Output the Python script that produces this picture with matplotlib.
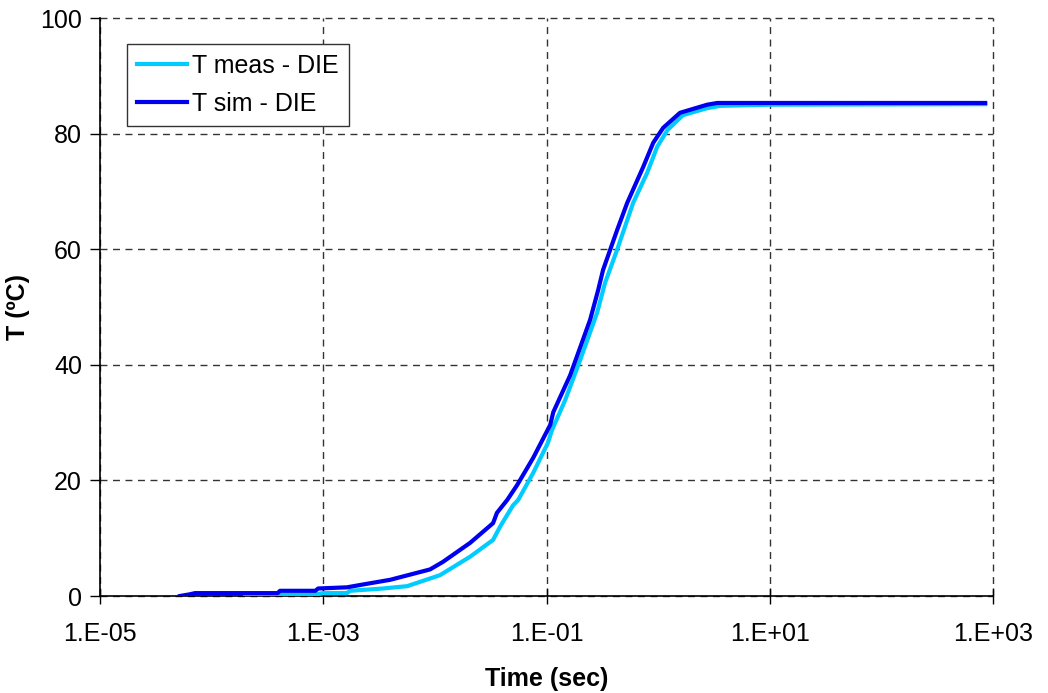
import matplotlib
matplotlib.use("Agg")
import matplotlib.pyplot as plt
from matplotlib.ticker import FixedLocator, NullLocator

plt.rcParams['font.family'] = ['Liberation Sans', 'DejaVu Sans']

# Simulated temperature (dark blue)
t_sim = [5.2e-5, 6.4e-5, 7.1e-5, 3.9e-4, 4.1e-4, 8.5e-4, 9.0e-4, 1.63e-3, 2.28e-3,
         3.97e-3, 9.06e-3, 1.18e-2, 2.07e-2, 3.32e-2, 3.6e-2, 4.44e-2, 5.46e-2,
         7.6e-2, 0.108, 0.115, 0.163, 0.246, 0.290, 0.321, 0.429, 0.528, 0.734,
         0.903, 1.11, 1.57, 2.75, 3.38, 851]
T_sim = [0.0, 0.3, 0.5, 0.5, 0.9, 0.9, 1.3, 1.5, 2.0,
         2.8, 4.6, 5.9, 9.2, 12.6, 14.4, 16.6, 19.2,
         23.9, 29.6, 31.8, 38.2, 47.8, 52.9, 56.4, 63.3, 68.0, 74.2,
         78.4, 81.0, 83.6, 85.0, 85.3, 85.3]

# Measured temperature (cyan)
t_meas = [2.0e-4, 8.8e-4, 9.95e-4, 1.63e-3, 1.74e-3, 3.43e-3, 5.64e-3, 1.11e-2,
          2.07e-2, 3.32e-2, 3.84e-2, 5.02e-2, 5.57e-2, 7.6e-2, 0.103, 0.112,
          0.147, 0.200, 0.284, 0.335, 0.429, 0.597, 0.797, 0.980, 1.21, 1.67,
          2.75, 3.60, 10.1, 851]
T_meas = [0.2, 0.3, 0.5, 0.5, 0.9, 1.3, 1.7, 3.6,
          6.8, 9.7, 12.0, 15.7, 16.6, 21.3, 26.5, 28.7,
          33.9, 40.8, 49.0, 54.2, 59.9, 68.0, 73.2, 77.7, 80.6, 83.2,
          84.4, 84.8, 85.0, 85.1]

x_ticks = [1e-5, 1e-3, 1e-1, 1e1, 1e3]
x_tick_labels = ['1.E-05', '1.E-03', '1.E-01', '1.E+01', '1.E+03']
y_ticks = [0, 20, 40, 60, 80, 100]

fig = plt.figure(figsize=(10.48, 6.93), dpi=100)
ax = fig.add_axes([100/1048, 97/693, 893/1048, 578/693])

ax.plot(t_meas, T_meas, color='#00CCFF', lw=3.0, label='T meas - DIE', zorder=3)
ax.plot(t_sim, T_sim, color='#0000F0', lw=3.0, label='T sim - DIE', zorder=4)

ax.set_xscale('log')
ax.set_xlim(1e-5, 1e3)
ax.set_ylim(0, 100)
ax.xaxis.set_major_locator(FixedLocator(x_ticks))
ax.xaxis.set_minor_locator(NullLocator())
ax.set_xticks(x_ticks)
ax.set_xticklabels(x_tick_labels)
ax.set_yticks(y_ticks)

ax.grid(True, which='major', color='#333333', linestyle=(0, (5, 4)), lw=1.0, zorder=1)
ax.set_axisbelow(True)
for gl in ax.get_xgridlines() + ax.get_ygridlines():
    gl.set_clip_on(False)

ax.spines['top'].set_visible(False)
ax.spines['right'].set_visible(False)
ax.spines['left'].set_linewidth(1.2)
ax.spines['bottom'].set_linewidth(1.2)
ax.tick_params(axis='x', direction='inout', length=12, width=1.0, labelsize=18, pad=13)
ax.tick_params(axis='y', direction='out', length=7, width=1.0, labelsize=18, pad=6)

ax.set_xlabel('Time (sec)', fontsize=18, fontweight='bold', labelpad=15)
ax.set_ylabel('T (ºC)', fontsize=18, fontweight='bold', labelpad=7)

leg = ax.legend(loc='upper left', bbox_to_anchor=(27/893, 1 - 26/578), fontsize=18,
                frameon=True, fancybox=False, edgecolor='#333333', framealpha=1,
                handlelength=2.0, handletextpad=0.2, borderpad=0.4, labelspacing=0.55,
                borderaxespad=0)
leg.get_frame().set_linewidth(1.0)

fig.savefig('out.png', dpi=100)
